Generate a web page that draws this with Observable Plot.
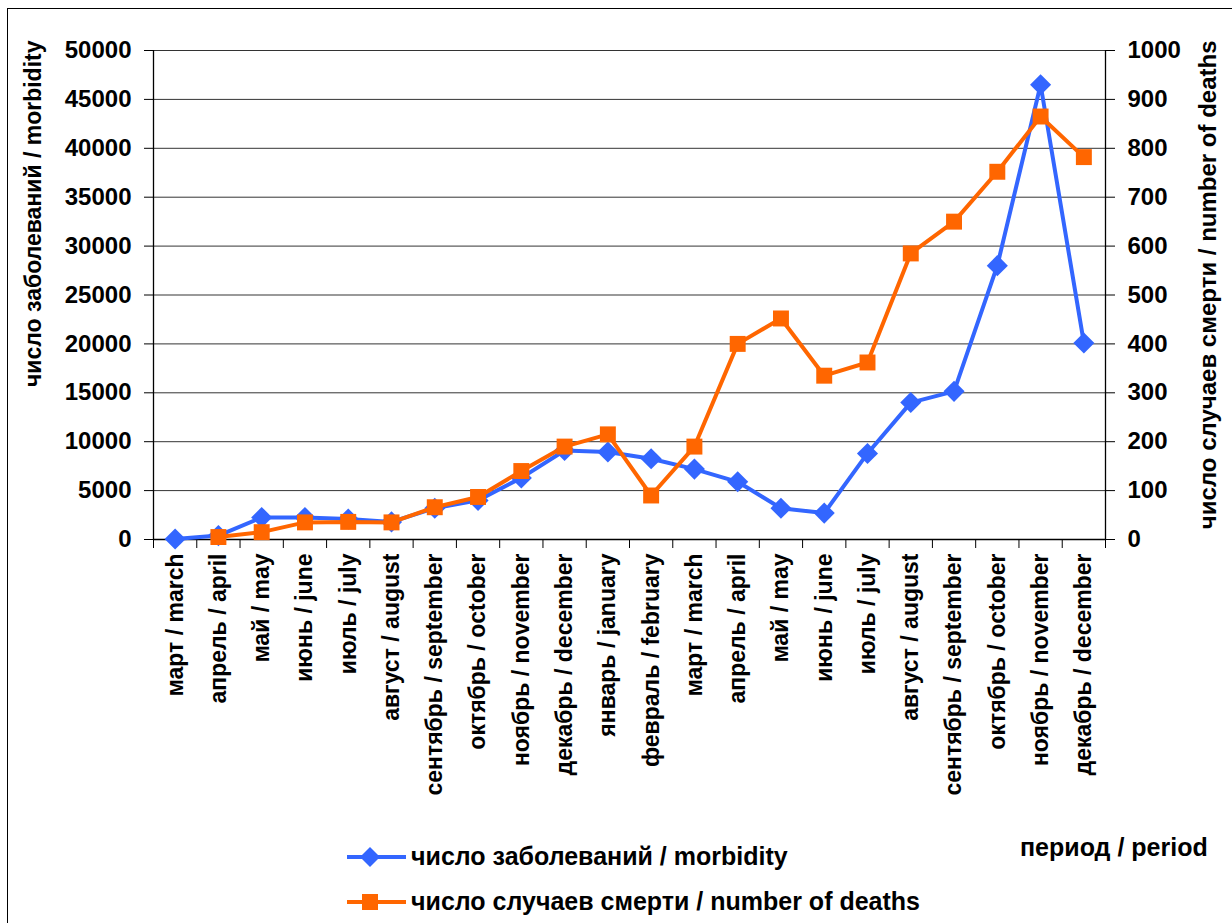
<!DOCTYPE html>
<html>
<head>
<meta charset="utf-8">
<script src="https://cdn.jsdelivr.net/npm/d3@7"></script>
<script src="https://cdn.jsdelivr.net/npm/@observablehq/plot@0.6"></script>
<style>
  html, body { margin: 0; padding: 0; background: #fff; overflow: hidden; width: 1232px; height: 923px; }
  #frame { position: absolute; left: 7px; top: 8px; width: 1300px; height: 1000px; border: 1px solid #000; }
  #chart { position: absolute; left: 0; top: 0; }
  .lab { position: absolute; font-family: "Liberation Sans", Arial, sans-serif; font-weight: bold; font-size: 25px; color: #000; white-space: nowrap; }
  .leg { position: absolute; display: flex; align-items: center; font-family: "Liberation Sans", Arial, sans-serif; font-weight: bold; font-size: 25px; white-space: nowrap; }
  .leg svg { margin-right: 3px; }
</style>
</head>
<body>
<div id="frame"></div>
<div id="chart"></div>
<div class="lab" style="left:1020px; top:833px;">период / period</div>
<div class="leg" style="left:346px; top:842px;">
  <svg width="62" height="28"><line x1="1" y1="14" x2="60" y2="14" stroke="#3366FF" stroke-width="4"/><path d="M24,4 L34,14 L24,24 L14,14 Z" fill="#3366FF"/></svg>
  <span>число заболеваний / morbidity</span>
</div>
<div class="leg" style="left:346px; top:887px;">
  <svg width="62" height="28"><line x1="1" y1="14" x2="60" y2="14" stroke="#FF6600" stroke-width="4"/><rect x="16" y="6" width="16" height="16" fill="#FF6600"/></svg>
  <span>число случаев смерти / number of deaths</span>
</div>
<script>
const months = [
  "март / march", "апрель / april", "май / may", "июнь / june", "июль / july",
  "август / august", "сентябрь / september", "октябрь / october", "ноябрь / november",
  "декабрь / december", "январь / january", "февраль / february", "март / march",
  "апрель / april", "май / may", "июнь / june", "июль / july", "август / august",
  "сентябрь / september", "октябрь / october", "ноябрь / november", "декабрь / december"
];
const morbidity = [
  50, 400, 2250, 2250, 2100, 1800, 3200, 4000, 6300, 9100, 8950,
  8250, 7200, 5900, 3200, 2700, 8800, 14000, 15150, 28000, 46500, 20100
];
const deaths = [
  null, 5, 15, 35, 36, 35, 66, 87, 140, 190, 215,
  90, 190, 400, 452, 335, 362, 585, 650, 752, 865, 782
];
const leftTicks = [0, 5000, 10000, 15000, 20000, 25000, 30000, 35000, 40000, 45000, 50000];
const rightTicks = [0, 100, 200, 300, 400, 500, 600, 700, 800, 900, 1000];
const leftTitle = "число заболеваний / morbidity";
const rightTitle = "число случаев смерти / number of deaths";

const ratio = 50000 / 1000;
const rows = months.map((m, i) => ({i, month: m, morbidity: morbidity[i], deaths: deaths[i]}));
const deathRows = rows.filter(r => r.deaths != null);
const idx = months.map((_, i) => i);
const bounds = d3.range(months.length + 1).map(i => i - 0.5);

const blue = "#3366FF", orange = "#FF6600";

const chart = Plot.plot({
  width: 1232,
  height: 923,
  marginLeft: 153,
  marginRight: 127,
  marginTop: 50,
  marginBottom: 384,
  style: {fontFamily: "'Liberation Sans', Arial, sans-serif", fontWeight: "bold", color: "#000", background: "transparent", overflow: "visible"},
  x: {domain: [-0.5, months.length - 0.5], label: null},
  y: {domain: [0, 50000], label: null},
  marks: [
    Plot.gridY(leftTicks, {stroke: "#000", strokeOpacity: 0.8, strokeWidth: 1}),
    Plot.axisY({ticks: leftTicks, tickSize: 9, tickPadding: 13, fontSize: 24, tickFormat: d3.format("d"), label: null, stroke: "#000"}),
    Plot.axisY({anchor: "right", ticks: rightTicks.map(d => d * ratio), tickSize: 9, tickPadding: 13, fontSize: 24, tickFormat: d => d3.format("d")(d / ratio), label: null}),
    Plot.axisX({ticks: bounds, tickSize: 9, tickFormat: () => "", label: null}),
    Plot.axisX({ticks: idx, tickSize: 0, tickPadding: 14, tickRotate: -90, fontSize: 23, tickFormat: i => months[i], label: null}),
    Plot.ruleX([-0.5, months.length - 0.5], {stroke: "#000", strokeWidth: 1.3}),
    Plot.ruleY([0], {stroke: "#000", strokeWidth: 1.3}),
    Plot.line(rows, {x: "i", y: "morbidity", stroke: blue, strokeWidth: 4}),
    Plot.dot(rows, {x: "i", y: "morbidity", symbol: "diamond2", r: 9.5, fill: blue, stroke: "none"}),
    Plot.line(deathRows, {x: "i", y: r => r.deaths * ratio, stroke: orange, strokeWidth: 4}),
    Plot.dot(deathRows, {x: "i", y: r => r.deaths * ratio, symbol: "square", r: 9, fill: orange, stroke: "none"}),
    Plot.text([leftTitle], {frameAnchor: "top-left", rotate: -90, textAnchor: "end", lineAnchor: "middle", dx: -120, dy: -10, fontSize: 23, fontWeight: "bold", fill: "#000"}),
    Plot.text([rightTitle], {frameAnchor: "top-right", rotate: -90, textAnchor: "end", lineAnchor: "middle", dx: 103, dy: -10, fontSize: 24, fontWeight: "bold", fill: "#000"})
  ]
});
document.getElementById("chart").appendChild(chart);
</script>
</body>
</html>
